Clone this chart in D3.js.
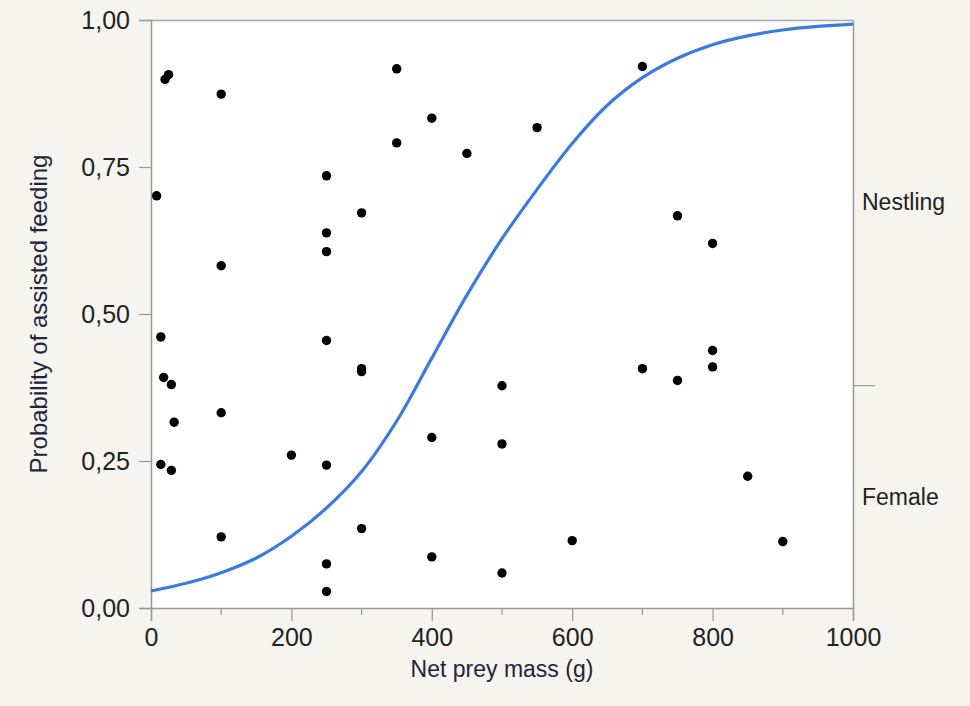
<!DOCTYPE html>
<html>
<head>
<meta charset="utf-8">
<script src="https://cdn.jsdelivr.net/npm/d3@7"></script>
<style>
  body{margin:0;background:#f5f4ef;}
  svg{display:block;font-family:"Liberation Sans",Arial,sans-serif;}
</style>
</head>
<body>
<svg id="svg" width="970" height="706"></svg>
<script>
// observed prey deliveries (net prey mass in g, jittered probability position)
const preyMass=[20,25,100,350,400,350,450,550,700,250,300,250,8,250,100,750,800,
  14,250,300,300,18,29,100,33,200,14,29,250,400,300,100,250,250,400,500,500,600,500,
  800,700,800,750,850,900];
const preyProb=[0.899,0.907,0.874,0.917,0.833,0.791,0.773,0.817,0.921,0.735,0.672,0.638,0.701,0.606,0.582,0.667,0.620,
  0.461,0.455,0.402,0.407,0.392,0.380,0.332,0.316,0.260,0.244,0.234,0.243,0.290,0.135,0.121,0.075,0.028,0.087,0.378,0.279,0.1145,0.0595,
  0.438,0.407,0.410,0.387,0.224,0.113];

// fitted logistic curve, every 50 g
const fitMass=[0,50,100,150,200,250,300,350,400,450,500,550,600,650,700,750,800,850,900,950,1000];
const fitProb=[0.029,0.042,0.060,0.085,0.122,0.170,0.232,0.318,0.425,0.532,0.628,0.712,0.790,0.855,0.902,0.935,0.958,0.973,0.983,0.989,0.993];

const xTicks=[0,200,400,600,800,1000];
const xMinorTicks=[100,300,500,700,900];
const yTicks=[0,0.25,0.5,0.75,1];
// right axis: category split and labels
const femaleShare=0.379;
const sideLabels=["Nestling","Female"];
const sideLabelPos=[0.69,0.189];

const plotLeft=151, plotRight=853, plotTop=20, plotBottom=608;

var svg=d3.select("#svg");

var x=d3.scaleLinear().domain([0,1000]).range([plotLeft,plotRight]);
var y=d3.scaleLinear().domain([0,1]).range([plotBottom,plotTop]);

//plot background
svg.append("rect")
    .attr("x",plotLeft).attr("y",plotTop)
    .attr("width",plotRight-plotLeft).attr("height",plotBottom-plotTop)
    .attr("fill","#ffffff")

//frame: top line
svg.append("line")
    .attr("x1",plotLeft).attr("x2",plotRight).attr("y1",plotTop+0.5).attr("y2",plotTop+0.5)
    .attr("stroke","#a8a8a8").attr("stroke-width",1.5)

//x axis
var xAxis=svg.append("g")
    .attr("transform","translate(0,"+plotBottom+")")
    .call(d3.axisBottom(x).tickValues(xTicks).tickSize(13).tickPadding(7).tickFormat(d3.format("d")))
xAxis.select(".domain").attr("stroke","#999").attr("stroke-width",1.5)
xAxis.selectAll(".tick line").attr("stroke","#999").attr("stroke-width",1.2)
xAxis.selectAll("text")
    .style("font-size","25px")
    .attr("fill","#222")

xAxis.selectAll(".minor")
    .data(xMinorTicks).enter().append("line")
        .attr("class","minor")
        .attr("x1",d=>x(d)).attr("x2",d=>x(d))
        .attr("y1",0).attr("y2",7)
        .attr("stroke","#999").attr("stroke-width",1.2)

//y axis
var yAxis=svg.append("g")
    .attr("transform","translate("+plotLeft+",0)")
    .call(d3.axisLeft(y).tickValues(yTicks).tickSize(12).tickPadding(9).tickFormat(d=>d3.format(".2f")(d).replace(".",",")))
yAxis.select(".domain").attr("stroke","#999").attr("stroke-width",1.5)
yAxis.selectAll(".tick line").attr("stroke","#999").attr("stroke-width",1.2)
yAxis.selectAll("text")
    .style("font-size","25px")
    .attr("fill","#222")

//right category axis
var yRight=d3.scaleLinear().domain([0,1]).range([plotBottom,plotTop]);
var rAxis=svg.append("g")
    .attr("transform","translate("+plotRight+",0)")
    .call(d3.axisRight(yRight).tickValues([femaleShare]).tickSize(22).tickSizeOuter(0).tickFormat(""))
rAxis.select(".domain").attr("stroke","#999").attr("stroke-width",1.5)
rAxis.selectAll(".tick line").attr("stroke","#999").attr("stroke-width",1.2)

svg.selectAll(".side-label")
    .data(sideLabels).enter().append("text")
        .attr("class","side-label")
        .attr("x",plotRight+9)
        .attr("y",(d,i)=>yRight(sideLabelPos[i]))
        .attr("dy","0.35em")
        .style("font-size","23px")
        .attr("fill","#222")
        .text(d=>d)

//fitted curve
var line=d3.line()
    .x(d=>x(d[0]))
    .y(d=>y(d[1]))
    .curve(d3.curveCatmullRom)

svg.append("path")
    .datum(fitMass.map((m,i)=>[m,fitProb[i]]))
    .attr("d",line)
    .attr("fill","none")
    .attr("stroke","#3b7be0")
    .attr("stroke-width",3.2)

//points
svg.selectAll(".dot")
    .data(preyMass.map((m,i)=>[m,preyProb[i]])).enter().append("circle")
        .attr("class","dot")
        .attr("cx",d=>x(d[0]))
        .attr("cy",d=>y(d[1]))
        .attr("r",4.7)
        .attr("fill","#000")

//axis titles
svg.append("text")
    .attr("x",(plotLeft+plotRight)/2)
    .attr("y",677)
    .attr("text-anchor","middle")
    .style("font-size","23px")
    .attr("fill","#24243a")
    .text("Net prey mass (g)")

svg.append("text")
    .attr("transform","translate(47,"+(y(0.5))+") rotate(-90)")
    .attr("text-anchor","middle")
    .style("font-size","24px")
    .attr("fill","#24243a")
    .text("Probability of assisted feeding")
</script>
</body>
</html>
